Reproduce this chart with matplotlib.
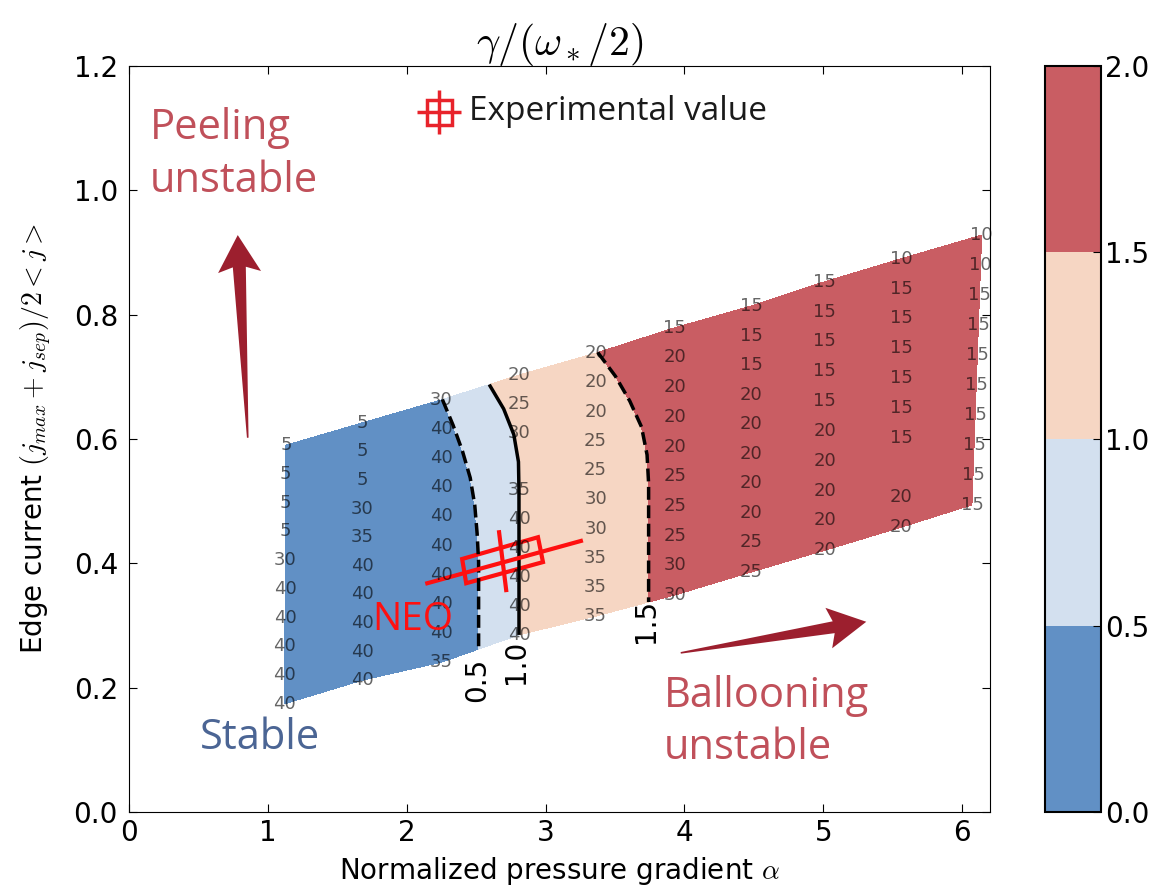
import numpy as np
import matplotlib
matplotlib.use("Agg")
import matplotlib.pyplot as plt
from matplotlib.patches import Polygon

plt.rcParams['mathtext.fontset'] = 'cm'

# scan grid: one column per pressure gradient, ten current values per column
alpha_bottom = [1.12, 1.68, 2.25, 2.81, 3.36, 3.93, 4.48, 5.01, 5.56, 6.07]
alpha_top = [1.13, 1.68, 2.25, 2.81, 3.36, 3.93, 4.48, 5.01, 5.56, 6.14]
j_bottom = [0.174, 0.212, 0.241, 0.285, 0.315, 0.349, 0.386, 0.421, 0.458, 0.494]
j_top = [0.590, 0.626, 0.663, 0.703, 0.738, 0.779, 0.814, 0.853, 0.890, 0.928]

# growth rate gamma/(omega_*/2), per column, bottom row first
gamma = [
    [0.0, 0.0, 0.0, 0.0, 0.0, 0.0, 0.0, 0.0, 0.0, 0.0],
    [0.0, 0.0, 0.0, 0.0, 0.0, 0.0, 0.0, 0.0, 0.0, 0.0],
    [0.04, 0.04, 0.04, 0.04, 0.074, 0.123, 0.202, 0.295, 0.385, 0.49],
    [1.003, 1.003, 1.003, 1.003, 1.003, 1.003, 1.008, 1.053, 1.154, 1.32],
    [1.2, 1.2, 1.2, 1.2, 1.2, 1.203, 1.224, 1.31, 1.40, 1.49],
    [1.648, 1.648, 1.648, 1.648, 1.648, 1.66, 1.70, 1.75, 1.80, 1.85],
    [1.70, 1.71, 1.72, 1.73, 1.75, 1.77, 1.79, 1.81, 1.84, 1.87],
    [1.74, 1.75, 1.76, 1.77, 1.79, 1.81, 1.83, 1.85, 1.87, 1.89],
    [1.78, 1.79, 1.80, 1.81, 1.83, 1.85, 1.87, 1.89, 1.91, 1.93],
    [1.80, 1.81, 1.82, 1.83, 1.85, 1.87, 1.89, 1.91, 1.93, 1.95],
]

# most unstable toroidal mode number, per column, top row first
n_mode = [
    [5, 5, 5, 5, 30, 40, 40, 40, 40, 40],
    [5, 5, 5, 30, 35, 40, 40, 40, 40, 40],
    [30, 40, 40, 40, 40, 40, 40, 40, 40, 35],
    [20, 25, 30, None, 35, 40, 40, 40, 40, 40],
    [20, 20, 20, 25, 25, 30, 30, 35, 35, 35],
    [15, 20, 20, 20, 20, 25, 25, 25, 30, 30],
    [15, 15, 15, 20, 20, 20, 20, 20, 25, 25],
    [15, 15, 15, 15, 15, 20, 20, 20, 20, 20],
    [10, 15, 15, 15, 15, 15, 15, None, 20, 20],
    [10, 10, 15, 15, 15, 15, 15, 15, 15, 15],
]

levels = [0.0, 0.5, 1.0, 1.5, 2.0]
fill_colors = ['#6190c5', '#d3e0ef', '#f6d6c3', '#c95d63']

# experimental point: error box corners and the two error bars
exp_box_alpha = [2.399, 2.428, 2.981, 2.945]
exp_box_j = [0.407, 0.368, 0.402, 0.442]
exp_bar1_alpha = [2.148, 3.254]
exp_bar1_j = [0.368, 0.436]
exp_bar2_alpha = [2.665, 2.716]
exp_bar2_j = [0.450, 0.357]

fig = plt.figure(figsize=(11.56, 8.93), dpi=100)
ax = fig.add_axes([0.1116, 0.0907, 0.7448, 0.8354])
cax = fig.add_axes([0.904, 0.0907, 0.048, 0.8354])

rows = np.linspace(0, 1, 10)[:, None]
A = np.array(alpha_bottom) + rows * (np.array(alpha_top) - np.array(alpha_bottom))
J = np.array(j_bottom) + rows * (np.array(j_top) - np.array(j_bottom))
G = np.array(gamma).T

cf = ax.contourf(A, J, G, levels=levels, colors=fill_colors)
ax.contour(A, J, G, levels=[0.5, 1.0, 1.5], colors='k', linewidths=2.5,
           linestyles=['--', '-', '--'])

for i in range(10):
    for k in range(10):
        n = n_mode[i][9 - k]
        if n is None:
            continue
        ax.text(A[k, i], J[k, i], str(n), ha='center', va='center',
                fontsize=13, color='k', alpha=0.6)

# contour level labels below the lines
ax.text(2.507, 0.212, '0.5', rotation=90, ha='center', va='center', fontsize=20)
ax.text(2.787, 0.241, '1.0', rotation=90, ha='center', va='center', fontsize=20)
ax.text(3.72, 0.307, '1.5', rotation=90, ha='center', va='center', fontsize=20)

ax.set_xlim(0, 6.2)
ax.set_ylim(0, 1.2)
ax.set_xticks([0, 1, 2, 3, 4, 5, 6])
ax.set_yticks([0.0, 0.2, 0.4, 0.6, 0.8, 1.0, 1.2])
ax.yaxis.set_major_formatter('{x:.1f}')
ax.tick_params(direction='in', top=True, right=True, length=6, labelsize=20)
ax.tick_params(axis='x', pad=5)
ax.tick_params(axis='y', pad=8)
ax.set_xlabel(r'Normalized pressure gradient $\alpha$', fontsize=20, labelpad=6)
ax.set_ylabel(r'Edge current $(j_{max}+j_{sep})/2<j>$', fontsize=20, labelpad=14)
ax.set_title(r'$\gamma/(\omega_*/2)$', fontsize=30, pad=8)

# experimental value with error box
red = '#ff1010'
ax.add_patch(Polygon(list(zip(exp_box_alpha, exp_box_j)), closed=True, fill=False,
                     ec=red, lw=3))
ax.plot(exp_bar1_alpha, exp_bar1_j, color=red, lw=3)
ax.plot(exp_bar2_alpha, exp_bar2_j, color=red, lw=3)
ax.text(1.75, 0.309, 'NEO', color=red, fontsize=28, family='Open Sans',
        ha='left', va='center')

ax.plot(2.234, 1.126, marker='s', ms=18, mfc='none', mec='#e8232b', mew=2.5)
ax.plot(2.234, 1.126, marker='+', ms=32, mec='#e8232b', mew=2.5)
ax.text(2.45, 1.126, 'Experimental value', fontsize=24, family='Open Sans',
        color='#1a1a1a', ha='left', va='center')

# region names
ax.text(0.15, 1.057, 'Peeling\nunstable', fontsize=30, family='Open Sans',
        color='#c0505a', ha='left', va='center', linespacing=1.35)
ax.text(3.85, 0.145, 'Ballooning\nunstable', fontsize=30, family='Open Sans',
        color='#c0505a', ha='left', va='center', linespacing=1.3)
ax.text(0.51, 0.119, 'Stable', fontsize=30, family='Open Sans',
        color='#4b6594', ha='left', va='center')


def tapered_arrow(tail, tip, head_w, head_l, shaft_w, color):
    p0 = ax.transData.transform(tail)
    p1 = ax.transData.transform(tip)
    u = (p1 - p0) / np.hypot(*(p1 - p0))
    v = np.array([-u[1], u[0]])
    base = p1 - u * head_l
    join = base + u * 5
    pts = [p0 + v * 0.8, join + v * shaft_w / 2, base + v * head_w / 2, p1,
           base - v * head_w / 2, join - v * shaft_w / 2, p0 - v * 0.8]
    pts = ax.transData.inverted().transform(np.array(pts))
    ax.add_patch(Polygon(pts, closed=True, fc=color, ec='none', clip_on=False))


tapered_arrow((0.855, 0.602), (0.783, 0.928), 43, 37, 13, '#9c1f2e')
tapered_arrow((3.973, 0.256), (5.309, 0.306), 41, 38, 12, '#9c1f2e')

cb = fig.colorbar(cf, cax=cax, ticks=levels, format='%.1f')
cb.ax.tick_params(labelsize=20, direction='in', length=6)
cb.outline.set_linewidth(1.5)

fig.savefig('out.png', dpi=100)
